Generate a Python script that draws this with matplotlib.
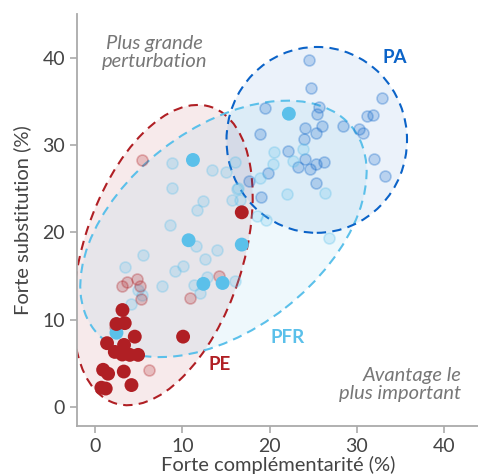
import matplotlib
matplotlib.use("Agg")
import matplotlib.pyplot as plt
from matplotlib.patches import Ellipse

plt.rcParams["font.family"] = ["Lato", "DejaVu Sans"]

# highlighted points
pe_x = [3.12, 2.43, 3.38, 4.53, 1.35, 3.3, 2.24, 3.1, 3.96, 4.91, 0.9, 1.47, 3.27, 0.7, 1.2, 4.15, 10.07, 16.8]
pe_y = [11.1, 9.5, 9.6, 8.05, 7.3, 7.1, 6.3, 6.0, 5.96, 5.96, 4.25, 3.8, 4.05, 2.2, 2.1, 2.5, 8.05, 22.3]
pfr_x = [2.43, 10.7, 12.4, 14.6, 16.8, 11.2, 22.2]
pfr_y = [8.5, 19.1, 14.1, 14.2, 18.6, 28.3, 33.6]

# faded points
pe_fx = [5.4, 3.1, 3.6, 4.8, 5.1, 5.3, 10.9, 14.2, 6.15, 2.24]
pe_fy = [28.3, 13.9, 14.3, 14.7, 13.9, 12.4, 12.5, 15.0, 4.25, 9.1]
pfr_fx = [20.5, 23.8, 22.7, 20.4, 16.0, 15.0, 18.9, 16.4, 15.7, 16.6, 22.0, 26.4, 18.5,
          19.6, 26.8, 8.8, 13.4, 8.8, 12.3, 11.7, 16.2, 8.6, 11.6, 14.0, 12.6, 5.5, 3.4,
          10.1, 9.2, 7.7, 11.3, 12.8, 16.0, 4.9, 5.4, 12.0, 4.15]
pfr_fy = [29.2, 29.6, 28.2, 27.8, 28.1, 26.9, 26.2, 25.1, 23.7, 23.7, 24.4, 24.5, 21.9,
          21.4, 19.4, 27.9, 27.1, 25.1, 23.6, 22.6, 25.0, 20.8, 18.4, 18.0, 17.0, 17.4, 16.0,
          16.1, 15.6, 13.9, 14.0, 14.9, 14.4, 13.4, 12.8, 13.1, 11.8]
pa_fx = [24.5, 24.7, 32.9, 19.5, 25.6, 25.4, 31.2, 31.9, 24.0, 26.0, 28.4, 18.9, 25.3, 30.3,
         30.7, 23.9, 22.1, 24.0, 23.3, 24.6, 25.3, 26.2, 32.0, 33.2, 19.8, 17.6, 25.3, 19.0]
pa_fy = [39.7, 36.5, 35.4, 34.3, 34.4, 33.6, 33.3, 33.4, 32.0, 32.2, 32.2, 31.3, 31.4, 31.8,
         31.4, 30.7, 29.3, 28.4, 27.5, 27.3, 27.8, 28.1, 28.4, 26.5, 26.8, 25.9, 25.7, 24.0]

red = "#b01f24"
light = "#5bc0ea"
blue = "#0b63c8"
grey = "#777777"

fig = plt.figure(figsize=(4.78, 4.75), dpi=100)
ax = fig.add_axes([0.161, 0.103, 0.841, 0.867])

# group ellipses: (center, width, height, angle, color, fill alpha)
groups = [
    ((7.75, 17.4), 35.7, 18.3, 72, red, 0.09),
    ((14.7, 20.4), 37.6, 23.0, 38, light, 0.10),
    ((25.4, 30.6), 20.7, 21.3, 0, blue, 0.08),
]
for center, w, h, ang, col, a in groups:
    ax.add_patch(Ellipse(center, w, h, angle=ang, facecolor=col, alpha=a,
                         edgecolor="none", zorder=1))
    ax.add_patch(Ellipse(center, w, h, angle=ang, facecolor="none", edgecolor=col,
                         lw=1.5, ls=(0, (4.5, 3)), zorder=2))

def faded(xs, ys, col):
    ax.scatter(xs, ys, s=62, facecolor=matplotlib.colors.to_rgba(col, 0.22),
               edgecolor=matplotlib.colors.to_rgba(col, 0.3), linewidth=1.2, zorder=3)

faded(pa_fx, pa_fy, blue)
faded(pfr_fx, pfr_fy, light)
faded(pe_fx, pe_fy, red)
ax.scatter(pfr_x, pfr_y, s=100, color=light, edgecolor="none", zorder=4)
ax.scatter(pe_x, pe_y, s=100, color=red, edgecolor="none", zorder=4)

ax.text(34.3, 40.0, "PA", color=blue, fontsize=13.5, fontweight="bold", ha="center", va="center")
ax.text(22.1, 7.9, "PFR", color=light, fontsize=13.5, fontweight="bold", ha="center", va="center")
ax.text(14.3, 4.8, "PE", color=red, fontsize=13.5, fontweight="bold", ha="center", va="center")
ax.text(6.8, 40.6, "Plus grande\nperturbation", color=grey, fontsize=14.5, style="italic",
        ha="center", va="center", linespacing=1.05)
ax.text(42.0, 2.6, "Avantage le\nplus important", color=grey, fontsize=14.5, style="italic",
        ha="right", va="center", linespacing=1.05)

ax.set_xlim(-2.1, 44)
ax.set_ylim(-2.2, 45)
ax.set_xticks([0, 10, 20, 30, 40])
ax.set_yticks([0, 10, 20, 30, 40])
for s in ["top", "right"]:
    ax.spines[s].set_visible(False)
for s in ["left", "bottom"]:
    ax.spines[s].set_color("#aaaaaa")
    ax.spines[s].set_linewidth(1.3)
ax.tick_params(colors="#aaaaaa", labelcolor="#444444", labelsize=14, length=5, width=1.2)
ax.set_xlabel("Forte complémentarité (%)", fontsize=14.5, color="#444444", labelpad=1)
ax.set_ylabel("Forte substitution (%)", fontsize=14.5, color="#444444", labelpad=8)

fig.savefig("out.png", dpi=100)
